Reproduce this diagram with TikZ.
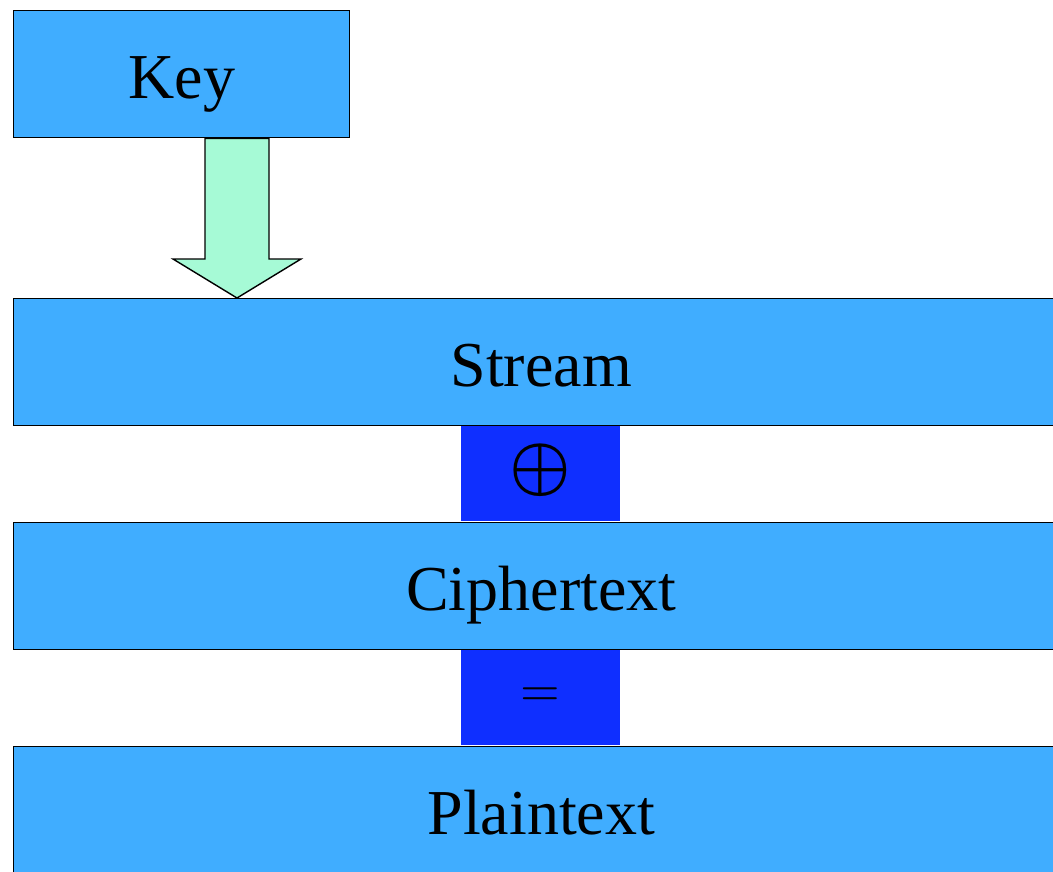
\documentclass[tikz,border=0pt]{standalone}
\usepackage{fontspec}
\usepackage{graphicx}
\setmainfont{Liberation Serif}
\usetikzlibrary{calc}
\definecolor{boxblue}{HTML}{40ADFF}
\definecolor{stripblue}{HTML}{0F2FFF}
\definecolor{arrowmint}{HTML}{A6FAD6}
\tikzset{
  layer/.style={draw=black, line width=1.4pt, fill=boxblue, rectangle,
    inner sep=0pt, anchor=north west, minimum height=127pt,
    text height=49pt, text depth=0pt,
    font=\fontsize{64}{76}\selectfont},
  strip/.style={fill=stripblue, rectangle, inner sep=0pt,
    minimum width=159pt, minimum height=95pt},
  keyarrow/.style={draw=black, line width=1.4pt, fill=arrowmint, line join=miter},
}
\begin{document}
\begin{tikzpicture}[x=1pt, y=-1pt]
  \useasboundingbox (0,0) rectangle (1053,871);
  \clip (0,0) rectangle (1053,871);

  % operator strips between the layers
  \node[strip] (xor) at (540.5,473.5) {};
  \node at ($(xor.center)+(0,-3)$) {\scalebox{6.9}{\boldmath$\oplus$}};
  \node[strip] (eq)  at (540.5,697.5) {};
  \node at (eq.center) {\scalebox{5.1}{$=$}};

  % layers
  \node[layer, minimum width=336pt]  (key)    at (13,10)  {Key};
  \node[layer, minimum width=1055pt] (stream) at (13,298) {Stream};
  \node[layer, minimum width=1055pt] (cipher) at (13,522) {Ciphertext};
  \node[layer, minimum width=1055pt] (plain)  at (13,746) {Plaintext};

  % block arrow from the key down to the stream
  \path (key.south west) ++(224,0) coordinate (kt);
  \path (stream.north west) ++(224,0) coordinate (tip);
  \draw[keyarrow]
    ($(kt)+(-32,0)$) -- ($(tip)+(-32,-39)$) -- ($(tip)+(-64,-39)$) --
    (tip) -- ($(tip)+(64,-39)$) -- ($(tip)+(32,-39)$) -- ($(kt)+(32,0)$) -- cycle;
\end{tikzpicture}
\end{document}
